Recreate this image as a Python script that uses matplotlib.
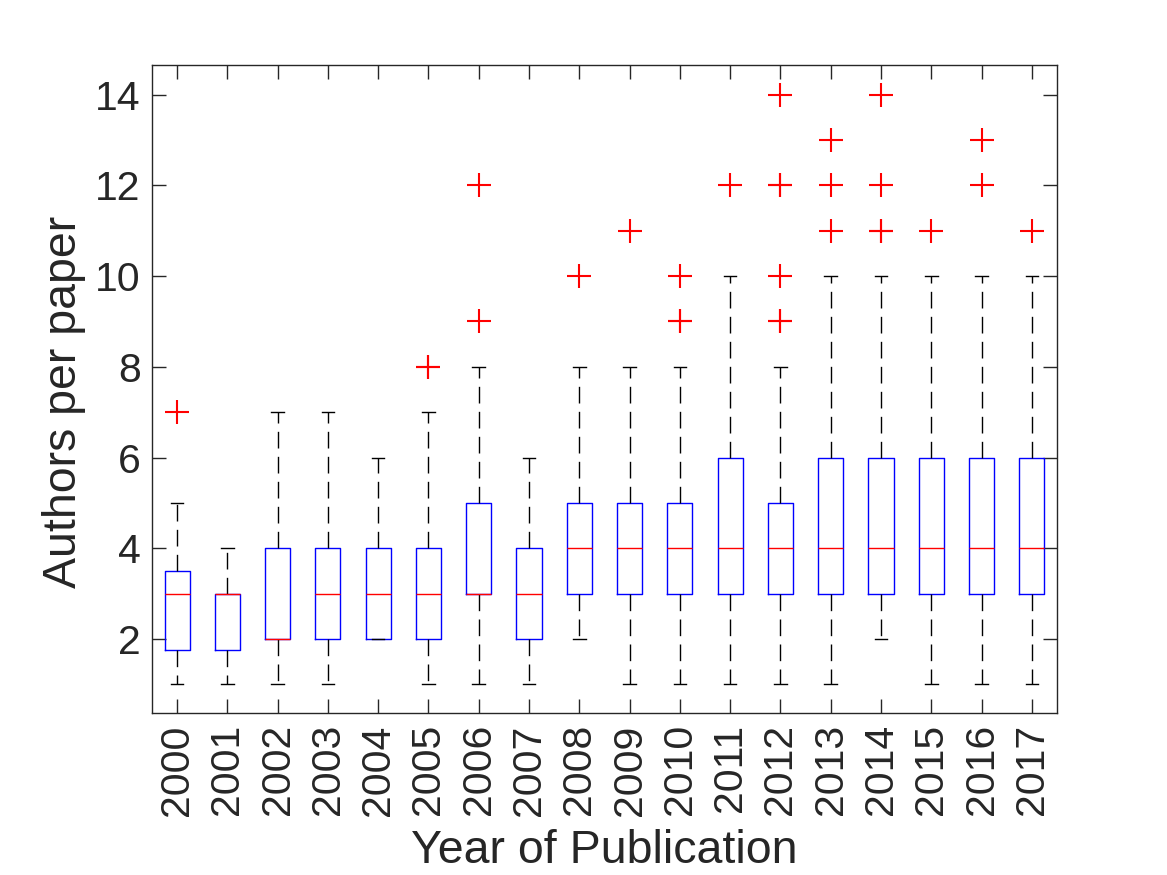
import matplotlib
matplotlib.use("Agg")
import matplotlib.pyplot as plt

plt.rcParams['font.family'] = ['Liberation Sans', 'DejaVu Sans']

years = [str(y) for y in range(2000, 2018)]
q1 = [1.75, 1.75, 2, 2, 2, 2, 3, 2, 3, 3, 3, 3, 3, 3, 3, 3, 3, 3]
med = [3, 3, 2, 3, 3, 3, 3, 3, 4, 4, 4, 4, 4, 4, 4, 4, 4, 4]
q3 = [3.5, 3, 4, 4, 4, 4, 5, 4, 5, 5, 5, 6, 5, 6, 6, 6, 6, 6]
whislo = [1, 1, 1, 1, 2, 1, 1, 1, 2, 1, 1, 1, 1, 1, 2, 1, 1, 1]
whishi = [5, 4, 7, 7, 6, 7, 8, 6, 8, 8, 8, 10, 8, 10, 10, 10, 10, 10]
fliers = [
    [7], [], [], [], [], [8, 8], [9, 12], [], [10], [11],
    [9, 9, 10], [12], [9, 9, 10, 12, 12, 14], [11, 12, 13],
    [11, 11, 12, 14], [11], [12, 13], [11],
]

stats = []
for i in range(len(years)):
    stats.append(dict(q1=q1[i], med=med[i], q3=q3[i], whislo=whislo[i],
                      whishi=whishi[i], fliers=fliers[i], label=years[i]))

fig = plt.figure(figsize=(11.67, 8.75), dpi=100)
ax = fig.add_axes([0.1302, 0.1851, 0.7755, 0.7406])

ax.bxp(stats, positions=range(1, len(years) + 1), widths=0.5, capwidths=0.25,
       boxprops=dict(color='blue', linewidth=1),
       medianprops=dict(color='red', linewidth=1),
       whiskerprops=dict(color='black', linewidth=1, linestyle=(0, (12, 6))),
       capprops=dict(color='black', linewidth=1),
       flierprops=dict(marker='+', markeredgecolor='red', markersize=17,
                       markeredgewidth=1.5, linestyle='none'))

ax.set_xlim(0.5, 18.5)
ax.set_ylim(0.37, 14.65)
ax.set_yticks([2, 4, 6, 8, 10, 12, 14])
ax.set_xticklabels(years, rotation=90)

dark = '#262626'
for s in ax.spines.values():
    s.set_color(dark)
    s.set_linewidth(1)
ax.tick_params(direction='in', length=10, width=1, colors=dark,
               labelsize=29.5, top=True, right=True, pad=8)
ax.set_xlabel('Year of Publication', fontsize=33.5, color=dark, labelpad=10)
ax.set_ylabel('Authors per paper', fontsize=33.5, color=dark)
ax.yaxis.set_label_coords(-0.073, 0.48)

fig.savefig('out.png', dpi=100)
